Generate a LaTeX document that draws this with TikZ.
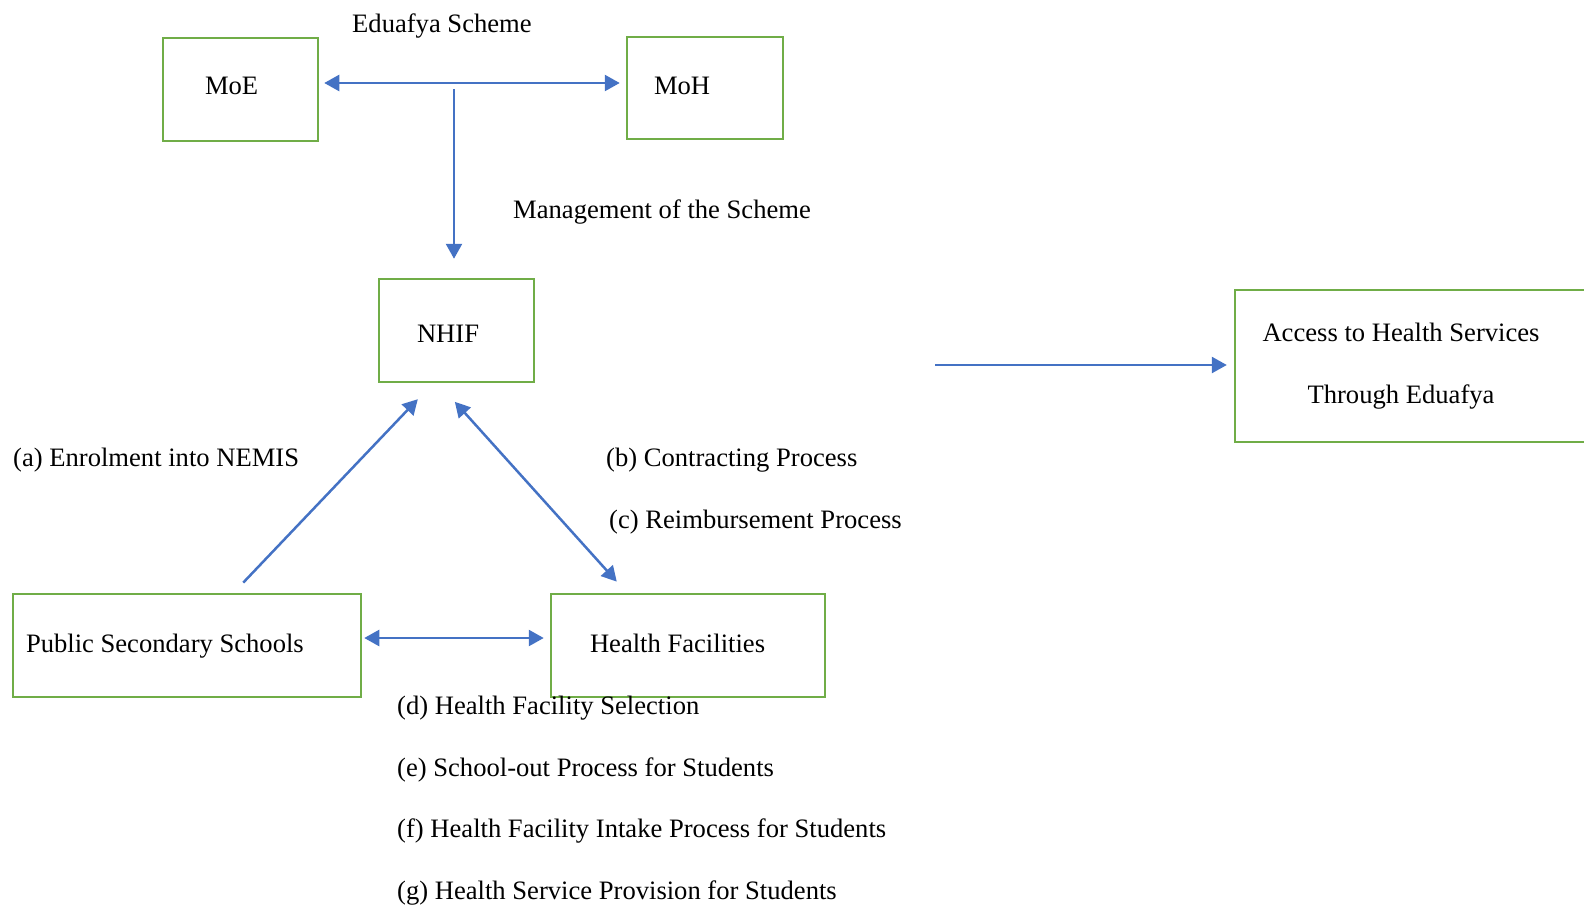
\documentclass[tikz,border=0pt]{standalone}
\usepackage{fontspec}
\setmainfont{Liberation Serif}
\usepackage{tikz}
\usetikzlibrary{arrows.meta}
\definecolor{boxgreen}{HTML}{70AD47}
\definecolor{arrowblue}{HTML}{4472C4}

\begin{document}
\begin{tikzpicture}[x=1pt,y=-1pt,
		font=\fontsize{26.6}{32}\selectfont,
		box/.style 2 args={draw=boxgreen,line width=2.5pt,minimum height=103pt,
			text width=#1,inner xsep=#2,inner ysep=0pt,align=flush left,text depth=6pt},
		boxline/.style={draw=boxgreen,line width=2.5pt},
		conn/.style={draw=arrowblue,line width=2.5pt,>={Triangle[length=15pt,width=16pt]}},
		txt/.style={anchor=west,inner sep=0pt}]
	\useasboundingbox (0,0) rectangle (1584,905);
	\node[box={71pt}{42pt},text height=15.6pt] (moe) at (240.5,89.5) {MoE};
	\node[box={102pt}{27pt},minimum height=102pt,text height=19.6pt] (moh) at (705,88) {MoH};
	\node[box={79pt}{38pt},text height=29.6pt] (nhif) at (456.5,330.5) {NHIF};
	\node[box={322pt}{13pt},text height=20.4pt] (pss) at (187,645.5) {Public Secondary Schools};
	\node[box={196pt}{39pt},text height=20.2pt] (hf) at (688,645.5) {Health Facilities};
	\node[align=flush center,text width=332pt,inner xsep=0pt,minimum height=152pt,
		font=\fontsize{26.6}{62}\selectfont] (acc) at (1401,366)
		{Access to Health Services\\Through Eduafya};
	\draw[boxline] (acc.north west) rectangle ([xshift=30pt]acc.south east);

	\coordinate (hub) at (454,83);
	\coordinate (src) at (935,365);
	\draw[conn,<->,shorten <=5pt,shorten >=6pt] (moe.east |- hub) -- (moh.west |- hub);
	\draw[conn,->,shorten <=6pt,shorten >=19pt] (hub) -- (hub |- nhif.north);
	\draw[conn,->,shorten >=8pt] (src) -- (src -| acc.west);
	\draw[conn,->,shorten <=14pt,shorten >=22pt] ([xshift=46.6pt]pss.north) -- ([xshift=-23.5pt]nhif.south);
	\draw[conn,<->,shorten <=25pt,shorten >=15pt] ([xshift=-18.4pt]nhif.south) -- ([xshift=-61.2pt]hf.north);
	\draw[conn,<->,shorten <=2pt,shorten >=6pt] ([yshift=7.5pt]pss.east) -- ([yshift=7.5pt]hf.west);

	\node[txt] (eduafya) at (352,26) {Eduafya Scheme};
	\node[txt] (mgmt) at (513,212) {Management of the Scheme};
	\node[txt] (enrol) at (13,460) {(a) Enrolment into NEMIS};
	\node[txt] (contract) at (606,460) {(b) Contracting Process};
	\node[txt] (reimb) at (609,522) {(c) Reimbursement Process};
	\node[txt] (select) at (397,708) {(d) Health Facility Selection};
	\node[txt] (schoolout) at (397,770) {(e) School-out Process for Students};
	\node[txt] (intake) at (397,831) {(f) Health Facility Intake Process for Students};
	\node[txt] (provision) at (397,893) {(g) Health Service Provision for Students};
\end{tikzpicture}
\end{document}
